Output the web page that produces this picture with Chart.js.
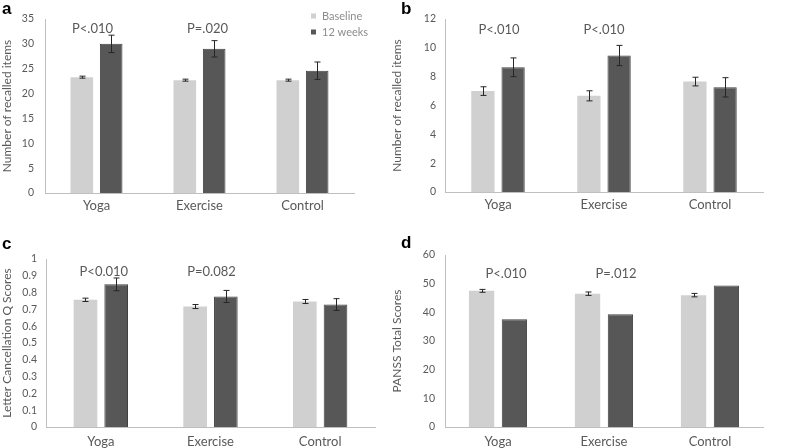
<!DOCTYPE html>
<html>
<head>
<meta charset="utf-8">
<script src="https://cdn.jsdelivr.net/npm/chart.js@4"></script>
<style>
  body { margin: 0; background: #fff; }
  #wrap { position: relative; width: 787px; height: 448px; overflow: hidden; }
  .panel { position: absolute; }
  .tag { position: absolute; font: bold 17px "Liberation Sans", Arial, sans-serif; color: #000; line-height: 1; }
</style>
</head>
<body>
<div id="wrap">
  <div class="panel" style="left:0;top:0"><canvas id="chartA" width="393" height="215"></canvas></div>
  <div class="panel" style="left:390px;top:0"><canvas id="chartB" width="397" height="215"></canvas></div>
  <div class="panel" style="left:0;top:215px"><canvas id="chartC" width="393" height="233"></canvas></div>
  <div class="panel" style="left:390px;top:215px"><canvas id="chartD" width="397" height="233"></canvas></div>
  <div class="tag" style="left:2px;top:0px">a</div>
  <div class="tag" style="left:401px;top:0px">b</div>
  <div class="tag" style="left:2px;top:235px">c</div>
  <div class="tag" style="left:401px;top:234px">d</div>
</div>
<script>
"use strict";

// groups + series
const groups = ["Yoga", "Exercise", "Control"];
const seriesNames = ["Baseline", "12 weeks"];

// a - recalled items
const recallBase = [23.3, 22.7, 22.7];
const recallBaseErr = [0.2, 0.2, 0.2];
const recallWeek12 = [30.0, 29.0, 24.6];
const recallWeek12Err = [1.75, 1.65, 1.75];
const recallP = ["P<.010", "P=.020", ""];

// b - delayed recall
const delayBase = [7.0, 6.67, 7.66];
const delayBaseErr = [0.3, 0.35, 0.3];
const delayWeek12 = [8.65, 9.47, 7.26];
const delayWeek12Err = [0.65, 0.7, 0.67];
const delayP = ["P<.010", "P<.010", ""];

// c - letter cancellation
const letterBase = [0.757, 0.717, 0.747];
const letterBaseErr = [0.01, 0.012, 0.012];
const letterWeek12 = [0.849, 0.777, 0.729];
const letterWeek12Err = [0.038, 0.036, 0.035];
const letterP = ["P<0.010", "P=0.082", ""];

// d - PANSS
const panssBase = [47.5, 46.5, 46.0];
const panssBaseErr = [0.5, 0.6, 0.6];
const panssWeek12 = [37.6, 39.3, 49.4];
const panssWeek12Err = [null, null, null];
const panssP = ["P<.010", "P=.012", ""];

const lightGrey = "#d0d0d0";
const darkGrey = "#575757";
const textGrey = "#595959";
const font = "Lato";

// draws the error whiskers from each dataset's errors array
const errorBars = {
    id: "errorBars",
    afterDatasetsDraw(chart) {
        const ctx = chart.ctx;
        const yScale = chart.scales.y;
        ctx.save();
        ctx.strokeStyle = "#262626";
        ctx.lineWidth = 1;
        chart.data.datasets.forEach(function(ds, i) {
            if (!ds.errors) return;
            const meta = chart.getDatasetMeta(i);
            meta.data.forEach(function(bar, j) {
                const e = ds.errors[j];
                if (e == null) return;
                const x = Math.round(bar.x) + 0.5;
                const yTop = yScale.getPixelForValue(ds.data[j] + e);
                const yBot = yScale.getPixelForValue(ds.data[j] - e);
                ctx.beginPath();
                ctx.moveTo(x, yTop);
                ctx.lineTo(x, yBot);
                ctx.moveTo(x - 3, yTop);
                ctx.lineTo(x + 3, yTop);
                ctx.moveTo(x - 3, yBot);
                ctx.lineTo(x + 3, yBot);
                ctx.stroke();
            });
        });
        ctx.restore();
    }
};

// p value text above each group
const pLabels = {
    id: "pLabels",
    afterDraw(chart, args, opts) {
        if (!opts.labels) return;
        const ctx = chart.ctx;
        ctx.save();
        ctx.font = "13px " + font;
        ctx.fillStyle = textGrey;
        ctx.textAlign = "center";
        ctx.textBaseline = "middle";
        opts.labels.forEach(function(txt, i) {
            if (!txt) return;
            const x = chart.scales.x.getPixelForValue(i) + (opts.shift ? opts.shift[i] : 0);
            const y = chart.scales.y.getPixelForValue(opts.at);
            ctx.fillText(txt, x, y);
        });
        ctx.restore();
    }
};

// small square legend, only on panel a
const cornerLegend = {
    id: "cornerLegend",
    afterDraw(chart, args, opts) {
        if (!opts.show) return;
        const ctx = chart.ctx;
        ctx.save();
        ctx.font = "11px " + font;
        ctx.textBaseline = "middle";
        chart.data.datasets.forEach(function(ds, i) {
            const y = opts.y + i * 16;
            ctx.fillStyle = ds.backgroundColor;
            ctx.fillRect(opts.x, y - 2, 5, 5);
            ctx.fillStyle = "#8c8c8c";
            ctx.fillText(ds.label, opts.x + 11, y + 0.5);
        });
        ctx.restore();
    }
};

function makePanel(id, base, baseErr, week12, week12Err, p, setup) {
    const data = {
        labels: groups,
        datasets: [
            {
                label: seriesNames[0],
                data: base,
                errors: baseErr,
                backgroundColor: lightGrey,
                borderWidth: 0,
                categoryPercentage: setup.cat,
                barPercentage: 0.77
            },
            {
                label: seriesNames[1],
                data: week12,
                errors: week12Err,
                backgroundColor: darkGrey,
                borderColor: "#404040",
                borderWidth: 1,
                categoryPercentage: setup.cat,
                barPercentage: 0.77
            }
        ]
    };

    const config = {
        type: "bar",
        data: data,
        plugins: [errorBars, pLabels, cornerLegend],
        options: {
            responsive: false,
            animation: false,
            layout: { padding: { left: 0, top: setup.top, right: setup.right, bottom: 0 } },
            plugins: {
                legend: { display: false },
                tooltip: { enabled: false },
                pLabels: { labels: p, at: setup.pAt, shift: setup.shift },
                cornerLegend: setup.legend || { show: false }
            },
            scales: {
                x: {
                    grid: { display: false, drawTicks: false },
                    border: { display: true, color: "#bfbfbf", width: 1 },
                    ticks: { color: textGrey, font: { family: font, size: 13 }, padding: setup.xPad },
                    afterFit(scale) { scale.height = setup.xHeight; }
                },
                y: {
                    min: 0,
                    max: setup.max,
                    grid: { display: false, drawTicks: false },
                    border: { display: true, color: "#bfbfbf", width: 1 },
                    ticks: {
                        stepSize: setup.step,
                        color: textGrey,
                        font: { family: font, size: 10.5 },
                        padding: setup.yPad,
                        callback: function(v) { return String(Number(v.toFixed(2))); }
                    },
                    title: { display: true, text: setup.title, color: textGrey, font: { family: font, size: 12 }, padding: 0 },
                    afterFit(scale) { scale.width = setup.left; }
                }
            }
        }
    };

    return new Chart(document.getElementById(id), config);
}

makePanel("chartA", recallBase, recallBaseErr, recallWeek12, recallWeek12Err, recallP, {
    cat: 0.57, top: 19, right: 39, left: 45, xHeight: 22, xPad: 5, yPad: 11,
    max: 35, step: 5, title: "Number of recalled items", pAt: 33.1, shift: [-4, 8, 0],
    legend: { show: true, x: 311, y: 15.5 }
});

makePanel("chartB", delayBase, delayBaseErr, delayWeek12, delayWeek12Err, delayP, {
    cat: 0.57, top: 19, right: 24, left: 55, xHeight: 23, xPad: 5, yPad: 9,
    max: 12, step: 2, title: "Number of recalled items", pAt: 11.27, shift: [1, 0, 0]
});

makePanel("chartC", letterBase, letterBaseErr, letterWeek12, letterWeek12Err, letterP, {
    cat: 0.56, top: 44, right: 18, left: 46, xHeight: 21, xPad: 7, yPad: 9,
    max: 1, step: 0.1, title: "Letter Cancellation Q Scores", pAt: 0.926, shift: [3, 1, 0]
});

makePanel("chartD", panssBase, panssBaseErr, panssWeek12, panssWeek12Err, panssP, {
    cat: 0.62, top: 40, right: 24, left: 55, xHeight: 21, xPad: 7, yPad: 10,
    max: 60, step: 10, title: "PANSS Total Scores", pAt: 53.3, shift: [8, 12, 0]
});
</script>
</body>
</html>
